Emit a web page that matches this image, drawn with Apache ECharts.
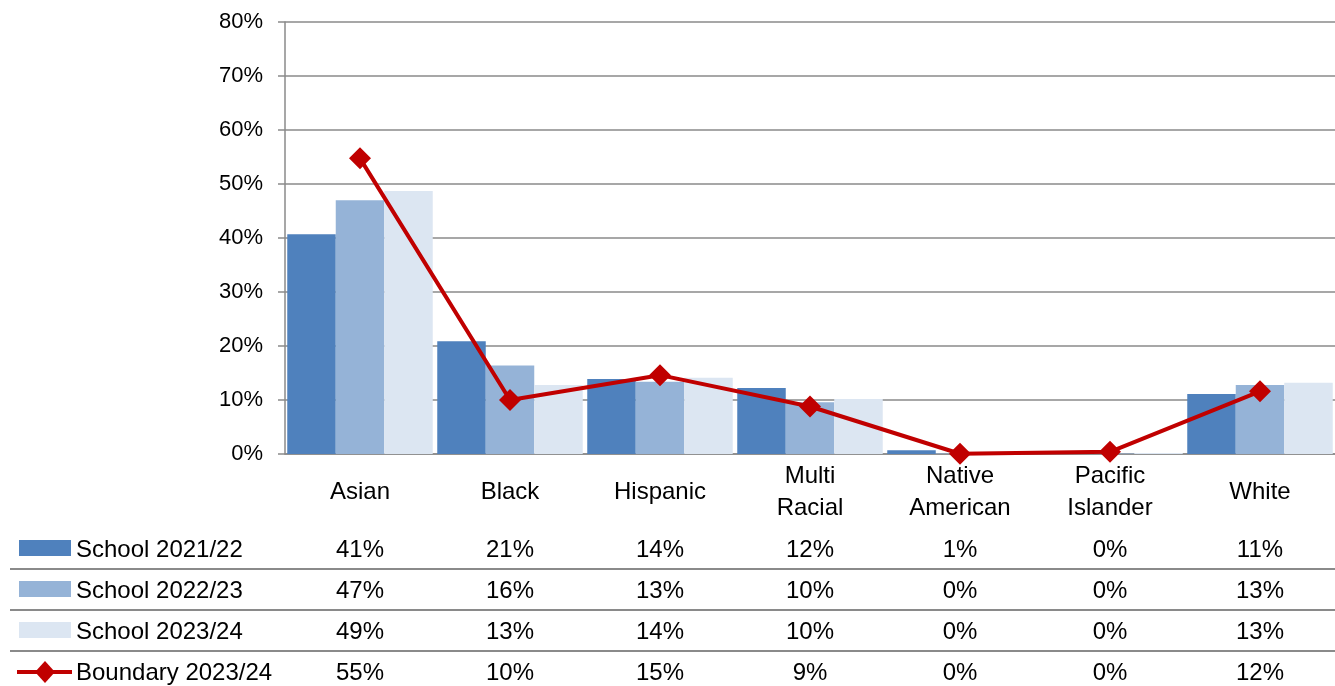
<!DOCTYPE html>
<html><head><meta charset="utf-8">
<script src="https://cdn.jsdelivr.net/npm/echarts@6/dist/echarts.min.js"></script>
<style>html,body{margin:0;padding:0;background:#fff}#c{width:1335px;height:686px}</style>
</head><body><div id="c"></div>
<script>
const categories = ['Asian','Black','Hispanic','Multi Racial','Native American','Pacific Islander','White'];
const school2122 = [40.7, 20.9, 13.9, 12.2, 0.7, 0.1, 11.1];
const school2223 = [47.0, 16.4, 13.4, 9.6, 0.1, 0.1, 12.8];
const school2324 = [48.7, 12.8, 14.1, 10.2, 0.1, 0.2, 13.2];
const boundary2324 = [54.75, 10.0, 14.6, 8.8, 0.05, 0.4, 11.6];
const seriesNames = ['School 2021/22','School 2022/23','School 2023/24','Boundary 2023/24'];
const yMin = 0, yMax = 80, yStep = 10;

const FONT = 'Liberation Sans';
const colors = ['#4F81BD','#95B3D7','#DCE6F2','#C00000'];
const gridColor = '#8a8a8a';

const chart = echarts.init(document.getElementById('c'), null, {renderer:'canvas'});
const barSeries = [school2122, school2223, school2324].map((d,i)=>({
  name: seriesNames[i], type:'bar', data:d, barGap:'0%', barCategoryGap:'3%',
  itemStyle:{color:colors[i]}, animation:false
}));
const option = {
  animation:false,
  grid:{left:285, right:0, top:22, bottom:232, containLabel:false},
  xAxis:{type:'category', data:categories,
    axisLine:{lineStyle:{color:gridColor, width:1.5}}, axisTick:{show:false},
    axisLabel:{margin:6, interval:0,
      formatter:(v)=>{const p=v.split(' '); return p.length>1 ? p.map(s=>'{d|'+s+'}').join('\n') : '{s|'+v+'}';},
      rich:{
        s:{fontFamily:FONT, fontSize:24, color:'#000', lineHeight:64},
        d:{fontFamily:FONT, fontSize:24, color:'#000', lineHeight:32}
      }}
  },
  yAxis:{type:'value', min:yMin, max:yMax, interval:yStep,
    axisLine:{show:true, lineStyle:{color:gridColor, width:1.5}},
    axisTick:{show:true, length:7, lineStyle:{color:gridColor, width:1.5}},
    splitLine:{lineStyle:{color:gridColor, width:1.5}},
    axisLabel:{formatter:v=>v+'%', fontFamily:FONT, fontSize:22, color:'#000', margin:22}
  },
  series:[...barSeries, {
    name:seriesNames[3], type:'line', data:boundary2324, symbol:'diamond', symbolSize:22,
    lineStyle:{color:colors[3], width:4}, itemStyle:{color:colors[3]}, z:5
  }]
};
chart.setOption(option);

// data table below the chart
const allRows = [school2122, school2223, school2324, boundary2324];
const rowY = [548, 589, 630, 671];
const g = [];
[569, 610, 651].forEach(y=>g.push({type:'line', shape:{x1:10,y1:y,x2:1335,y2:y}, style:{stroke:gridColor, lineWidth:2}}));
allRows.forEach((row, r)=>{
  const y = rowY[r];
  if (r < 3) {
    g.push({type:'rect', shape:{x:19, y:y-8, width:52, height:16}, style:{fill:colors[r]}});
  } else {
    g.push({type:'line', shape:{x1:17,y1:y+1,x2:72,y2:y+1}, style:{stroke:colors[3], lineWidth:4}});
    g.push({type:'polygon', shape:{points:[[45,y-10],[55,y+1],[45,y+12],[35,y+1]]}, style:{fill:colors[3]}});
  }
  g.push({type:'text', x:76, y:y+2, style:{text:seriesNames[r], font:'24px '+FONT, fill:'#000', textAlign:'left', textVerticalAlign:'middle'}});
  row.forEach((v,i)=>{
    const x = chart.convertToPixel({xAxisIndex:0}, i);
    g.push({type:'text', x:x, y:y+2, style:{text:Math.round(v)+'%', font:'24px '+FONT, fill:'#000', textAlign:'center', textVerticalAlign:'middle'}});
  });
});
chart.setOption({graphic:g});
</script></body></html>
